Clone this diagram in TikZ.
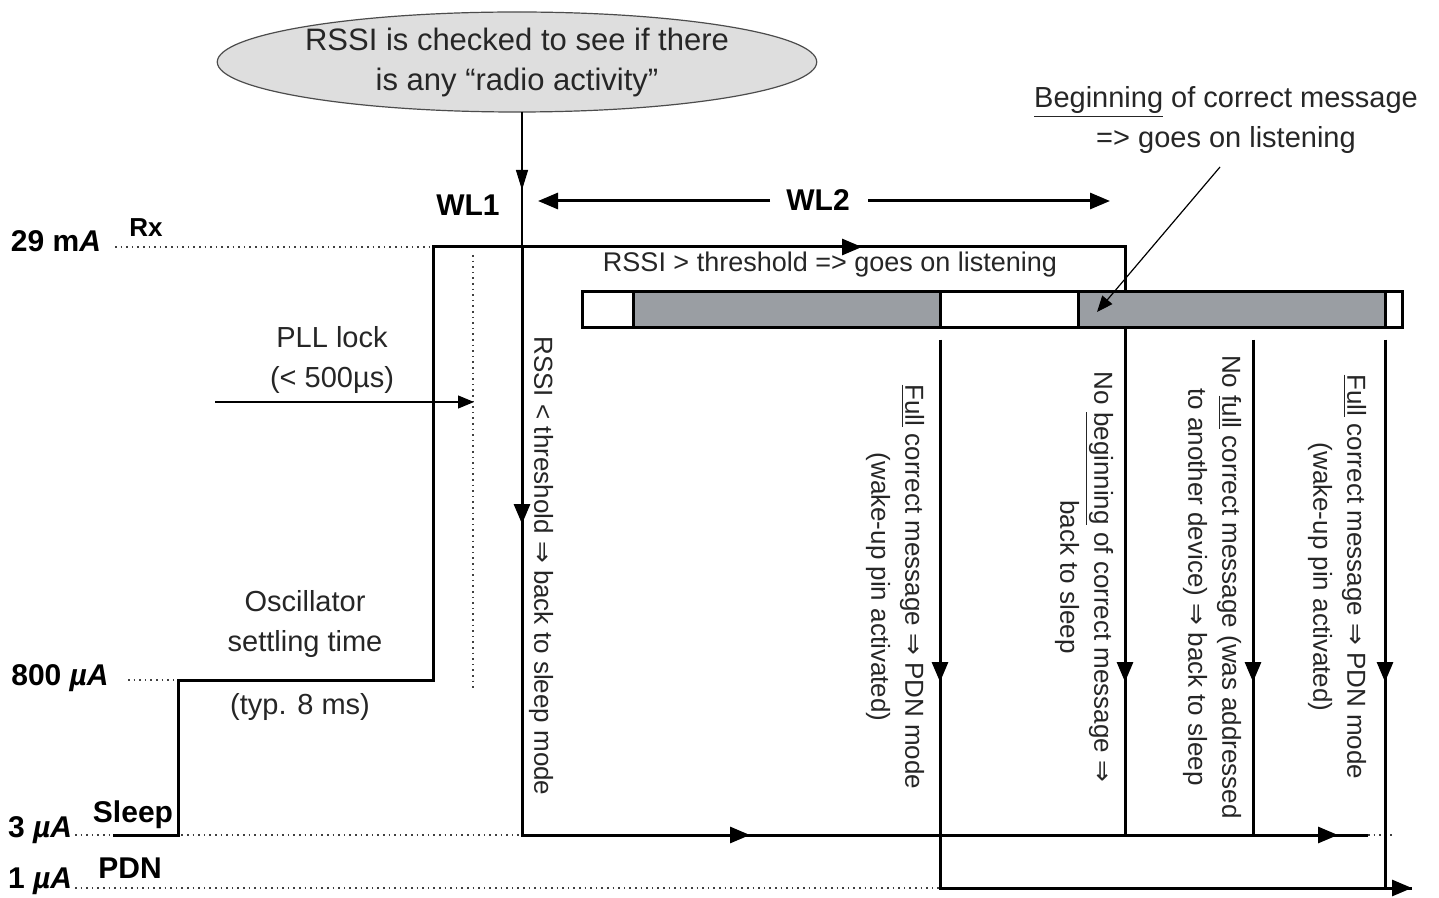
\documentclass[tikz,border=0pt]{standalone}
\usepackage{fontspec}
\setmainfont{Liberation Sans}
\newfontfamily\dvs{DejaVu Sans}
\usetikzlibrary{arrows.meta,shapes.geometric}
\newcommand{\RA}{{\dvs ⇒}}
\definecolor{bargray}{RGB}{154,158,163}
\definecolor{ellgray}{RGB}{222,222,222}
\begin{document}
\begin{tikzpicture}[x=0.5pt,y=-0.5pt,
  trace/.style={line width=1.5pt,line join=miter},
  thin/.style={line width=0.6pt},
  dots/.style={line width=0.8pt,dotted,black!75},
  tip/.style={-{Triangle[length=10pt,width=8pt]}},
  tipthin/.style={-{Triangle[length=8pt,width=6.5pt]}},
  tipnarrow/.style={-{Triangle[length=10pt,width=6pt]}},
  lbl/.style={font=\bfseries\fontsize{15}{18}\selectfont,inner sep=0pt},
  txt/.style={font=\fontsize{14.5}{20}\selectfont,text=black!85,align=center,inner sep=0pt},
  vtxt/.style={font=\fontsize{13}{17}\selectfont,text=black!85,align=center,inner sep=0pt,rotate=-90},
  gbox/.style={fill=bargray,draw=black,line width=1.5pt}]
\path[use as bounding box,fill=white] (0,0) rectangle (1439,898);

% coordinates
\coordinate (sl0) at (113,835);
\coordinate (a1) at (178,835);
\coordinate (a2) at (178,680);
\coordinate (b1) at (433,680);
\coordinate (b2) at (433,247);
\coordinate (w1t) at (522,247);
\coordinate (w1b) at (522,835);
\coordinate (c1) at (1125,247);
\coordinate (c2) at (1125,835);
\coordinate (d1) at (940,340);
\coordinate (d2) at (940,888);
\coordinate (e1) at (1253,340);
\coordinate (e2) at (1253,835);
\coordinate (f1) at (1385,340);
\coordinate (f2) at (1385,888);
\coordinate (pend) at (1412,888);
\coordinate (send) at (1368,835);

% dotted level lines
\draw[dots] (115,247) -- (b2);
\draw[dots] (128,680) -- (a2);
\draw[dots] (75,835) -- (w1b);
\draw[dots] (send) -- (1392,835);
\draw[dots] (75,888) -- (d2);
\draw[dots] (473,255) -- (473,690);

% ellipse
\node[ellipse,draw=black!70,thin,fill=ellgray,minimum width=292pt,minimum height=50pt,inner sep=0pt,
      font=\fontsize{15.5}{20}\selectfont,text=black!85,align=center] (ell) at (517,62)
  {RSSI is checked to see if there\\is any “radio activity”};
\coordinate (ellb) at (522,112);
\draw[thin] (ellb) -- (w1t);
\draw[thin,tipnarrow] (ellb) -- (522,190);

% main trace
\draw[trace] (sl0) -- (a1) -- (a2) -- (b1) -- (b2) -- (c1) -- (c2);
\draw[trace,tip] (b2) -- (862,247);
\draw[trace] (w1t) -- (w1b) -- (send);
\draw[trace,tip] (w1t) -- (522,524);
\draw[trace,tip] (w1b) -- (750,835);
\draw[trace,tip] (w1b) -- (1338,835);
\draw[trace,tip] (c1) -- (1125,682);

% bar (drawn over the vertical at x=1125)
\draw[line width=1.5pt,fill=white] (582,292) rectangle (1402,328);
\draw[gbox] (633,292) rectangle (940,328);
\draw[gbox] (1078,292) rectangle (1385,328);

% verticals from the bar
\draw[trace] (d1) -- (d2) -- (pend);
\draw[trace,tip] (d2) -- (pend);
\draw[trace,tip] (d1) -- (940,682);
\draw[trace,tip] (e1) -- (1253,682);
\draw[trace] (e1) -- (e2);
\draw[trace,tip] (f1) -- (1385,682);
\draw[trace] (f1) -- (f2);

% PLL arrow
\coordinate (pll0) at (215,402);
\coordinate (pll1) at (474,402);
\draw[thin,tipthin] (pll0) -- (pll1);

% WL labels and WL2 arrow
\node[lbl] (wl2) at (818,200) {WL2};
\node[lbl] (wl1) at (468,205) {WL1};
\coordinate (wl2l) at (538,201);
\coordinate (wl2r) at (1110,201);
\draw[trace,tip] (770,201) -- (wl2l);
\draw[trace,tip] (868,201) -- (wl2r);

% annotation
\node[txt] (beg) at (1226,120) {\underline{Beginning} of correct message\\=> goes on listening};
\coordinate (ann0) at (1220,167);
\coordinate (ann1) at (1097,312);
\draw[thin,tipthin] (ann0) -- (ann1);

% left labels
\node[lbl] (l29) at (56,241) {29 m\textit{A}};
\node[lbl,font=\bfseries\fontsize{13}{16}\selectfont] (lrx) at (146,228) {Rx};
\node[lbl] (l800) at (60,678) {800 \textit{µA}};
\node[lbl] (l3) at (40,830) {3 \textit{µA}};
\node[lbl] (lsl) at (133,815) {Sleep};
\node[lbl] (l1) at (40,881) {1 \textit{µA}};
\node[lbl] (lpdn) at (130,868) {PDN};

% horizontal texts
\node[txt] (pll) at (332,360) {PLL lock\\(< 500µs)};
\node[txt] (osc) at (305,624) {Oscillator\\settling time};
\node[txt] (typ) at (300,707) {(typ. 8 ms)};
\node[txt,font=\fontsize{13.5}{18}\selectfont] (gt) at (830,265) {RSSI > threshold => goes on listening};

% vertical texts
\node[vtxt] (v1) at (541,566) {RSSI < threshold \RA{} back to sleep mode};
\node[vtxt] (v2) at (895,587) {\underline{Full} correct message \RA{} PDN mode\\(wake-up pin activated)};
\node[vtxt] (v3) at (1084,577) {No \underline{beginning} of correct message \RA\\back to sleep};
\node[vtxt] (v4) at (1212,587) {No \underline{full} correct message (was addressed\\to another device) \RA{} back to sleep};
\node[vtxt] (v5) at (1337,577) {\underline{Full} correct message \RA{} PDN mode\\(wake-up pin activated)};
\end{tikzpicture}
\end{document}
